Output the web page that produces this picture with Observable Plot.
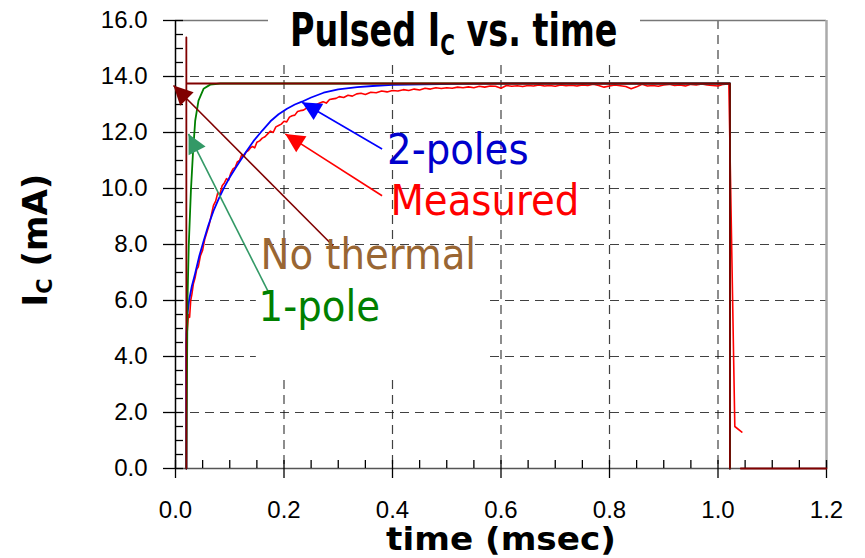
<!DOCTYPE html>
<html>
<head>
<meta charset="utf-8">
<script src="https://cdn.jsdelivr.net/npm/d3@7"></script>
<script src="https://cdn.jsdelivr.net/npm/@observablehq/plot@0.6"></script>
<style>
  html, body { margin: 0; padding: 0; background: #fff; }
  #wrap { position: relative; width: 865px; height: 558px; overflow: hidden; }
  #title { position: absolute; left: 268px; top: 0; width: 372px; height: 62px; background: #fff; }
  #title span { position: absolute; left: 22px; top: 6px; line-height: 47px; white-space: nowrap;
    font-family: "Liberation Sans Narrow", "DejaVu Sans Condensed", "Liberation Sans", sans-serif;
    font-weight: bold; font-size: 47px; color: #000; transform: scaleX(0.79); transform-origin: 0 50%; }
  #title sub { font-size: 0.6em; line-height: 0; vertical-align: -0.32em; }
  .axlabel { position: absolute; white-space: nowrap; font-family: "DejaVu Sans", sans-serif;
    font-weight: bold; color: #000; line-height: 1; }
  .axlabel sub { font-size: 0.62em; line-height: 0; vertical-align: -0.25em; }
  #xlabel { left: 501px; top: 523px; font-size: 32px; line-height: 32px; transform: translateX(-50%) scaleX(1.07); }
  #ylabel { left: 35px; top: 240px; font-size: 34px; transform: translate(-50%, -50%) rotate(-90deg); }
</style>
</head>
<body>
<div id="wrap">
  <div id="chart"></div>
  <div id="title"><span>Pulsed I<sub>C</sub> vs. time</span></div>
  <div id="xlabel" class="axlabel">time (msec)</div>
  <div id="ylabel" class="axlabel">I<sub>C</sub> (mA)</div>
</div>
<script>
// ---- axis ticks ----
const xMajor = [0, 0.2, 0.4, 0.6, 0.8, 1.0, 1.2];
const xMinor = [0.05, 0.1, 0.15, 0.25, 0.3, 0.35, 0.45, 0.5, 0.55, 0.65, 0.7, 0.75, 0.85, 0.9, 0.95, 1.05, 1.1, 1.15];
const xGrid = [0.2, 0.4, 0.6, 0.8, 1.0];
const yMajor = [0, 2, 4, 6, 8, 10, 12, 14, 16];
const yMinor = [0.5, 1, 1.5, 2.5, 3, 3.5, 4.5, 5, 5.5, 6.5, 7, 7.5, 8.5, 9, 9.5, 10.5, 11, 11.5, 12.5, 13, 13.5, 14.5, 15, 15.5];
const yGrid = [2, 4, 6, 8, 10, 12, 14];

// ---- series: No thermal (time msec, Ic mA) ----
const noThermalT = [0.02, 0.02, 0.02, 1.022, 1.022, 1.042, 1.042, 1.2];
const noThermalI = [0, 15.4, 13.75, 13.75, 0, null, 0, 0];

// ---- series: 1-pole ----
const onePoleT = [0.02, 0.0221, 0.0244, 0.0284, 0.0321, 0.0363, 0.0424, 0.0517, 0.064, 0.0825, 1.022, 1.022];
const onePoleI = [0, 5.99, 7.95, 9.92, 11.23, 12.42, 13.14, 13.56, 13.71, 13.75, 13.75, 0];

// ---- series: 2-poles ----
const twoPolesT = [0.02, 0.02, 0.022, 0.025, 0.03, 0.036, 0.044, 0.052, 0.06, 0.07, 0.08, 0.09, 0.1, 0.113, 0.128, 0.144, 0.16, 0.175, 0.19, 0.2055, 0.22, 0.233, 0.25, 0.273, 0.3, 0.335, 0.37, 0.4, 0.457, 0.52, 0.6, 1.022, 1.022];
const twoPolesI = [0, 4.8, 5.5, 6.0, 6.5, 6.95, 7.6, 8.13, 8.65, 9.2, 9.65, 10.05, 10.4, 10.8, 11.25, 11.7, 12.07, 12.4, 12.65, 12.85, 13.0, 13.1, 13.25, 13.42, 13.54, 13.62, 13.67, 13.7, 13.72, 13.74, 13.75, 13.75, 0];

// ---- series: Measured ----
const measuredT = [0.02, 0.02, 0.022, 0.024, 0.026, 0.028, 0.03, 0.033, 0.036, 0.039, 0.042, 0.046, 0.05, 0.054, 0.058, 0.062, 0.066, 0.07, 0.074, 0.078, 0.082, 0.086, 0.09, 0.094, 0.098, 0.102, 0.106, 0.11, 0.114, 0.118, 0.122, 0.126, 0.13, 0.134, 0.138, 0.142, 0.146, 0.15, 0.155, 0.16, 0.165, 0.17, 0.175, 0.18, 0.185, 0.19, 0.195, 0.2, 0.205, 0.21, 0.215, 0.22, 0.225, 0.23, 0.236, 0.242, 0.248, 0.254, 0.26, 0.266, 0.272, 0.278, 0.284, 0.29, 0.296, 0.302, 0.31, 0.318, 0.326, 0.334, 0.342, 0.35, 0.36, 0.37, 0.38, 0.39, 0.4, 0.41, 0.42, 0.43, 0.44, 0.45, 0.46, 0.47, 0.48, 0.49, 0.5, 0.51, 0.52, 0.53, 0.54, 0.55, 0.56, 0.57, 0.58, 0.59, 0.6, 0.61, 0.62, 0.63, 0.64, 0.65, 0.66, 0.67, 0.68, 0.69, 0.7, 0.71, 0.72, 0.73, 0.74, 0.75, 0.76, 0.77, 0.78, 0.79, 0.8, 0.81, 0.82, 0.83, 0.84, 0.85, 0.86, 0.87, 0.88, 0.89, 0.9, 0.91, 0.92, 0.93, 0.94, 0.95, 0.96, 0.97, 0.98, 0.99, 1.0, 1.01, 1.02, 1.031, 1.044];
const measuredI = [0, 4.5, 5.0, 5.5, 5.4, 6.0, 6.2, 6.6, 6.8, 7.1, 7.2, 7.6, 7.8, 8.2, 8.45, 8.7, 9.05, 9.4, 9.55, 9.85, 9.8, 10.1, 10.2, 10.35, 10.3, 10.55, 10.7, 10.75, 10.95, 11.0, 11.2, 11.15, 11.3, 11.35, 11.45, 11.5, 11.45, 11.65, 11.7, 11.8, 11.85, 11.95, 12.05, 12.0, 12.2, 12.25, 12.3, 12.4, 12.38, 12.55, 12.6, 12.62, 12.75, 12.78, 12.8, 12.88, 12.85, 12.98, 13.0, 13.05, 13.1, 13.05, 13.18, 13.2, 13.22, 13.28, 13.25, 13.33, 13.3, 13.38, 13.4, 13.36, 13.44, 13.42, 13.48, 13.45, 13.5, 13.48, 13.53, 13.5, 13.55, 13.52, 13.58, 13.55, 13.6, 13.57, 13.6, 13.58, 13.62, 13.6, 13.63, 13.6, 13.65, 13.62, 13.66, 13.65, 13.58, 13.68, 13.65, 13.67, 13.64, 13.68, 13.66, 13.7, 13.66, 13.68, 13.65, 13.7, 13.67, 13.69, 13.66, 13.7, 13.68, 13.72, 13.68, 13.62, 13.66, 13.7, 13.67, 13.64, 13.56, 13.63, 13.72, 13.66, 13.68, 13.65, 13.7, 13.72, 13.68, 13.7, 13.66, 13.72, 13.7, 13.73, 13.7, 13.68, 13.66, 13.72, 13.74, 1.5, 1.3];

// ---- annotations ----
const labelText = ["No thermal", "1-pole", "2-poles", "Measured"];
const labelT = [0.1566, 0.1532, 0.390, 0.3962];
const labelI = [7.12, 5.27, 10.88, 9.05];
const labelColor = ["#996633", "#008000", "#0000CC", "#FF0000"];
const arrowTailT = [0.2904, 0.1716, 0.3808, 0.3808];
const arrowTailI = [7.955, 6.29, 11.41, 9.74];
const arrowTipT = [-0.0037, 0.024, 0.2332, 0.2024];
const arrowTipI = [13.68, 11.95, 13.08, 11.95];
const arrowColor = ["#800000", "#339966", "#0000FF", "#FF0000"];
// white patch behind the lower labels (hides the grid there, as in the original)
const patchT = [0.149, 0.58];
const patchI = [3.24, 7.93];

const toRows = (T, I) => T.map((t, k) => ({t, v: I[k]}));
const noThermal = toRows(noThermalT, noThermalI);
const onePole = toRows(onePoleT, onePoleI);
const twoPoles = toRows(twoPolesT, twoPolesI);
const measured = toRows(measuredT, measuredI);
const labels = labelText.map((s, k) => ({s, t: labelT[k], v: labelI[k], c: labelColor[k]}));
const arrows = arrowColor.map((c, k) => ({c, t1: arrowTailT[k], v1: arrowTailI[k], t2: arrowTipT[k], v2: arrowTipI[k]}));
const patch = [{t1: patchT[0], t2: patchT[1], v1: patchI[0], v2: patchI[1]}];

function triangle(color, context) {
  const doc = (context && context.document) || document;
  const ns = "http://www.w3.org/2000/svg";
  const m = doc.createElementNS(ns, "marker");
  m.setAttribute("viewBox", "-20 -11 22 22");
  m.setAttribute("markerWidth", "22");
  m.setAttribute("markerHeight", "22");
  m.setAttribute("markerUnits", "userSpaceOnUse");
  m.setAttribute("orient", "auto");
  m.setAttribute("refX", "0");
  m.setAttribute("refY", "0");
  const p = doc.createElementNS(ns, "path");
  p.setAttribute("d", "M0,0L-19,-9.5L-19,9.5Z");
  p.setAttribute("fill", color);
  p.setAttribute("stroke", "none");
  m.appendChild(p);
  return m;
}

const fmt = d => d.toFixed(1);
const blank = () => "";

const plot = Plot.plot({
  width: 865,
  height: 558,
  marginLeft: 175,
  marginRight: 39,
  marginTop: 20,
  marginBottom: 90,
  x: {domain: [0, 1.2]},
  y: {domain: [0, 16]},
  style: {fontFamily: "'Liberation Sans', Arial, sans-serif", fontSize: "24px", color: "#000", background: "#fff", overflow: "visible"},
  marks: [
    Plot.gridX(xGrid, {stroke: "#111", strokeOpacity: 0.8, strokeWidth: 1.2, strokeDasharray: "9,6"}),
    Plot.gridY(yGrid, {stroke: "#111", strokeOpacity: 0.8, strokeWidth: 1.2, strokeDasharray: "9,6"}),
    Plot.rect(patch, {x1: "t1", x2: "t2", y1: "v1", y2: "v2", fill: "#fff"}),
    Plot.ruleY([16], {stroke: "#777", strokeWidth: 1.5}),
    Plot.ruleX([1.2], {stroke: "#aaa", strokeWidth: 2.5}),
    Plot.ruleY([0], {stroke: "#555", strokeWidth: 1.5}),
    Plot.ruleX([0], {stroke: "#000", strokeWidth: 1.5}),
    Plot.axisY(yMajor, {anchor: "left", tickSize: 12, tickPadding: 16, tickFormat: fmt, label: null, strokeWidth: 1.3}),
    Plot.axisY(yMajor.concat(yMinor), {anchor: "left", tickSize: 8, dx: 8, tickFormat: blank, label: null, strokeWidth: 1.3}),
    Plot.axisX(xMajor, {anchor: "bottom", tickSize: 10, tickPadding: 22, tickFormat: fmt, label: null, strokeWidth: 1.3}),
    Plot.axisX(xMajor.concat(xMinor), {anchor: "bottom", tickSize: 8, dy: -8, tickFormat: blank, label: null, strokeWidth: 1.3}),
    Plot.line(measured, {x: "t", y: "v", stroke: "#FF0000", strokeWidth: 1.6}),
    Plot.line(twoPoles, {x: "t", y: "v", stroke: "#0000FF", strokeWidth: 1.8}),
    Plot.line(onePole, {x: "t", y: "v", stroke: "#008000", strokeWidth: 1.8}),
    Plot.line(noThermal, {x: "t", y: "v", stroke: "#800000", strokeWidth: 1.8}),
    Plot.link(arrows, {x1: "t1", y1: "v1", x2: "t2", y2: "v2", stroke: "c", strokeWidth: 1.6, markerEnd: triangle}),
    Plot.text(labels, {x: "t", y: "v", text: "s", fill: "c", textAnchor: "start", lineAnchor: "bottom", fontSize: 43,
      fontFamily: "'Liberation Sans Narrow', 'DejaVu Sans Condensed', 'Liberation Sans', sans-serif"})
  ]
});
document.getElementById("chart").appendChild(plot);
</script>
</body>
</html>
